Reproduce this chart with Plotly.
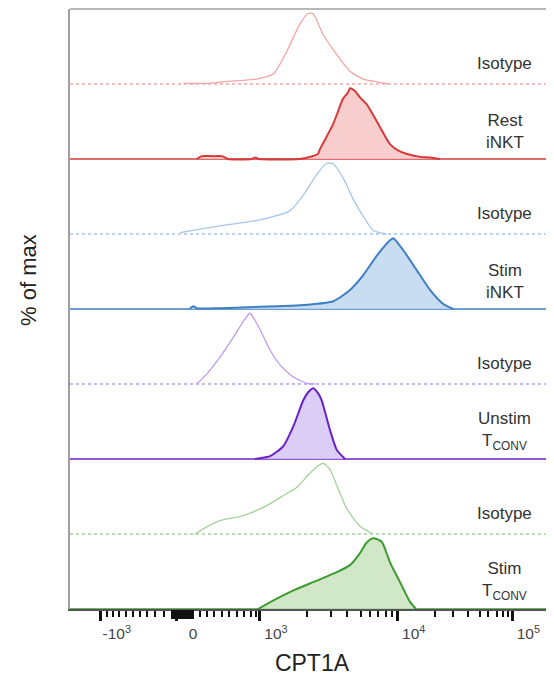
import plotly.graph_objects as go

# ---- data (x in display channel units of the biexponential CPT1A axis, y in % of max) ----
row_names = ["Stim T<sub>CONV</sub>", "Isotype", "Unstim T<sub>CONV</sub>", "Isotype",
             "Stim iNKT", "Isotype", "Rest iNKT", "Isotype"]

iso_red_x = [236.8, 290, 334.4, 360, 390, 425, 453, 480.7, 498, 508.5, 529, 557, 585, 613, 641, 665]
iso_red_y = [1, 1, 4, 5, 7, 14, 46, 85, 100, 99, 70, 42, 18, 7, 3, 0]

rest_inkt_x = [265, 275, 300, 318, 330, 380, 387, 395, 480, 501.6, 518.3, 522.5, 549.7, 570.6,
               580.8, 585.2, 595.6, 606.1, 620.7, 647.9, 668.8, 683.4, 704.3, 731.5, 752.4, 773.3]
rest_inkt_y = [0, 4, 4, 4, 0, 0, 2, 0, 0, 3, 7, 14, 49, 85, 94, 100, 96, 87, 77, 45, 21, 13, 7, 3, 2, 0]

iso_blue_x = [229.9, 271.7, 327.5, 397.1, 459.8, 487.6, 515.6, 536.5, 550.3, 571.2, 592.1, 613, 633.9, 661.9]
iso_blue_y = [2, 7, 13, 20, 33, 55, 84, 100, 99, 79, 49, 25, 5, 0]

stim_inkt_x = [250, 257.7, 265, 300, 494.7, 550.3, 585.2, 613, 641, 668.8, 675.7, 696.6, 724.6,
               752.4, 780.2, 801.1]
stim_inkt_y = [0, 4, 1, 1, 6, 11, 27, 48, 75, 97, 100, 83, 55, 27, 7, 0]

iso_purple_x = [264.8, 285.7, 313.5, 341.3, 365.8, 376.2, 397.1, 418, 438.9, 466.7, 494.7, 512]
iso_purple_y = [0, 14, 38, 66, 92, 100, 77, 48, 27, 10, 1, 0]

unstim_tconv_x = [386.7, 397.1, 418, 445.8, 466.7, 487.6, 497.4, 508.5, 518.3, 526, 543.4, 557.4, 574.8]
unstim_tconv_y = [0, 1, 4, 18, 46, 83, 94, 100, 93, 83, 41, 13, 0]

iso_green_x = [261.3, 285.7, 313.5, 362.2, 411.1, 445.2, 474.4, 497.4, 514.1, 529.4, 543.4, 557.4,
               578.3, 606.1, 633.9]
iso_green_y = [0, 10, 19, 26, 40, 54, 66, 83, 94, 100, 91, 69, 36, 11, 0]

stim_tconv_x = [392.9, 424.3, 466.1, 515.6, 557.4, 585.2, 606.1, 620.1, 633.9, 651.5, 668.8, 689.7,
                710.6, 723.1]
stim_tconv_y = [0, 12, 26, 40, 52, 62, 79, 94, 100, 95, 66, 38, 10, 0]

# axis ticks (display channel units)
major_tick_vals = [64.2, 223.6, 397.1, 684.9, 924.4]
major_tick_text = ["-10<sup>3</sup>", "0", "10<sup>3</sup>", "10<sup>4</sup>", "10<sup>5</sup>"]
zero_cluster_vals = [213.2, 218.4, 223.6, 228.9, 234.1, 239.3, 244.5, 249.8, 255.0]
minor_tick_vals = [76.7, 89.2, 103.0, 117.0, 131.0, 146.3, 161.6, 177.7, 196.5,
                   271.7, 285.7, 301.0, 317.1, 332.9, 348.4, 363.7, 377.7, 388.7,
                   494.7, 544.8, 578.3, 608.2, 627.0, 644.3, 660.4, 673.6,
                   762.9, 801.1, 831.2, 856.9, 874.2, 891.8, 905.6, 916.0, 999.6]

X_MAX = 1011.6
ROW = 106.0
FONT = "Liberation Sans, Arial, sans-serif"

rows = [
    (stim_tconv_x, stim_tconv_y, "#3e9a30", "rgba(196,226,186,0.8)", False),
    (iso_green_x, iso_green_y, "#a6d29a", None, True),
    (unstim_tconv_x, unstim_tconv_y, "#6a22c8", "rgba(214,196,245,0.85)", False),
    (iso_purple_x, iso_purple_y, "#bd9bec", None, True),
    (stim_inkt_x, stim_inkt_y, "#3f7fc4", "rgba(190,214,240,0.85)", False),
    (iso_blue_x, iso_blue_y, "#a6c6ea", None, True),
    (rest_inkt_x, rest_inkt_y, "#d63a3a", "rgba(247,196,196,0.85)", False),
    (iso_red_x, iso_red_y, "#f2a6a6", None, True),
]

fig = go.Figure()
for k, (xs, ys, col, fillc, iso) in enumerate(rows):
    base = k * ROW
    fig.add_trace(go.Scatter(
        x=[0, X_MAX], y=[base, base], mode="lines",
        line=dict(color=col, width=1.3 if iso else 1.6, dash="dot" if iso else "solid"),
        hoverinfo="skip", showlegend=False))
    fig.add_trace(go.Scatter(
        x=xs, y=[base + v for v in ys], mode="lines",
        line=dict(color=col, width=1.3 if iso else 2.0, shape="spline", smoothing=0.6),
        fill=None if iso else "toself",
        fillcolor=fillc,
        hoverinfo="skip", showlegend=False))

# invisible trace to anchor the overlay axis carrying the dense ticks around zero
fig.add_trace(go.Scatter(x=[0], y=[0], xaxis="x2", mode="markers",
                         marker=dict(opacity=0), hoverinfo="skip", showlegend=False))

label_x = 909
for k, name in enumerate(row_names):
    if name == "Isotype":
        yv = k * ROW + 29.5
        txt = name
    else:
        yv = k * ROW + 39
        txt = name.replace(" ", "<br>", 1)
    fig.add_annotation(x=label_x, y=yv, xref="x", yref="y", text=txt,
                       showarrow=False, align="center", xanchor="center", yanchor="middle",
                       font=dict(family=FONT, size=17, color="#333333"))

# page body adds an 8px offset; figure is sized so that it fits the 554x687 window
fig.add_annotation(x=(20 - 62) / 484, y=(601 - 272) / 600, xref="paper", yref="paper",
                   text="% of max", textangle=-90, showarrow=False,
                   xanchor="center", yanchor="middle",
                   font=dict(family=FONT, size=22, color="#222222"))

fig.add_shape(type="line", xref="paper", yref="paper", x0=0, x1=1, y0=1, y1=1,
              line=dict(color="#a0a0a0", width=1.5))

fig.update_layout(
    width=546, height=679,
    margin=dict(l=62, r=0, t=1, b=78, autoexpand=False),
    paper_bgcolor="white", plot_bgcolor="white",
    xaxis=dict(range=[0, X_MAX], showgrid=False, zeroline=False, automargin=False,
               showline=True, linecolor="#555555", linewidth=1.5,
               tickmode="array", tickvals=major_tick_vals, ticktext=major_tick_text,
               ticks="outside", ticklen=10, tickwidth=2.5, tickcolor="#111111",
               ticklabelshift=16,
               tickfont=dict(family=FONT, size=15.5, color="#444444"),
               minor=dict(tickmode="array", tickvals=minor_tick_vals, ticks="outside",
                          ticklen=6, tickwidth=1.5, tickcolor="#111111"),
               title=dict(text="CPT1A", font=dict(family=FONT, size=23, color="#222222"),
                          standoff=14)),
    xaxis2=dict(range=[0, X_MAX], overlaying="x", anchor="y", side="bottom",
                showgrid=False, zeroline=False, automargin=False, showline=False,
                tickmode="array", tickvals=zero_cluster_vals, showticklabels=False,
                ticks="outside", ticklen=9, tickwidth=2.5, tickcolor="#111111"),
    yaxis=dict(range=[0, 8 * ROW], showgrid=False, zeroline=False, showticklabels=False,
               automargin=False, ticks="", showline=True, linecolor="#a0a0a0", linewidth=1.5),
)

fig.write_html("out.html")
